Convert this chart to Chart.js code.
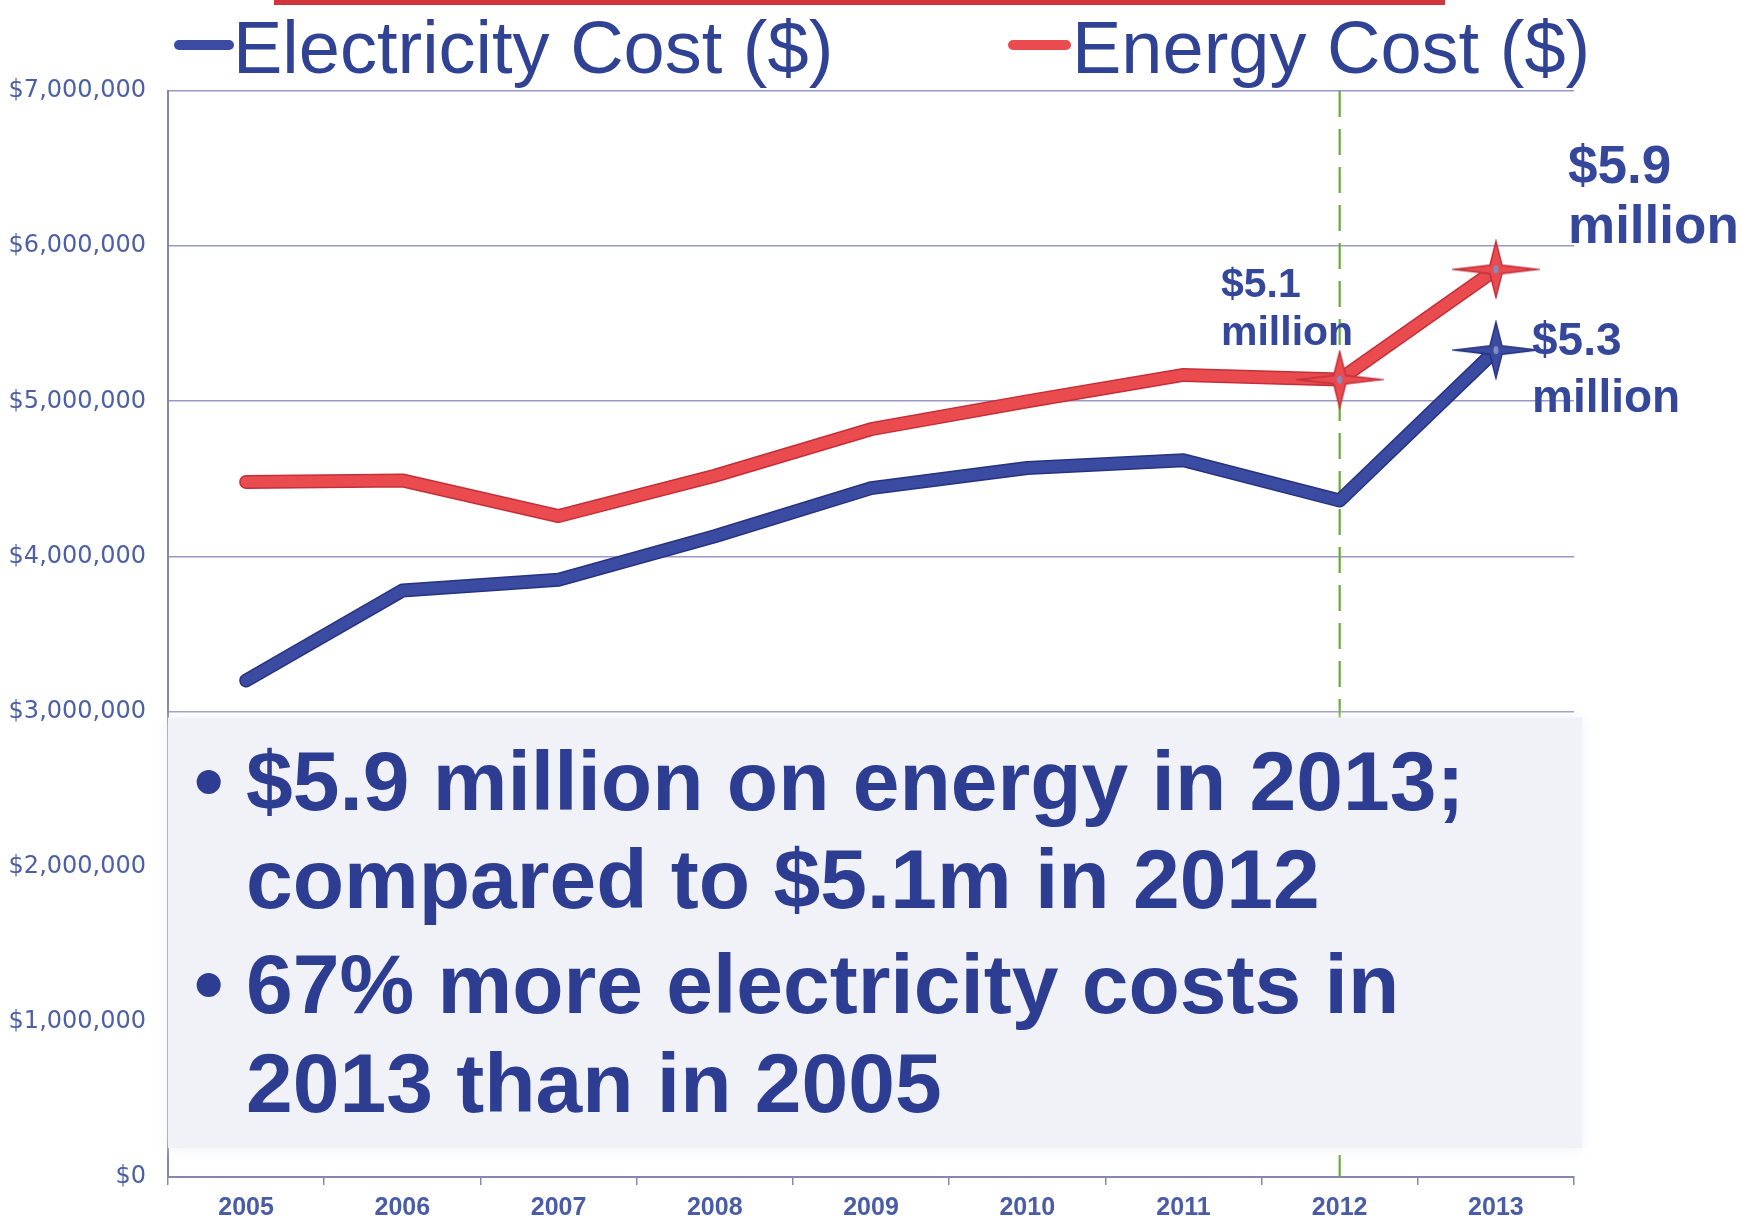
<!DOCTYPE html>
<html>
<head>
<meta charset="utf-8">
<script src="https://cdn.jsdelivr.net/npm/chart.js@4.4.1/dist/chart.umd.min.js"></script>
<style>
  html, body { margin: 0; padding: 0; background: #ffffff; }
  #wrap { width: 1756px; height: 1222px; position: relative; }
</style>
</head>
<body>
<div id="wrap"><canvas id="c"></canvas></div>
<script>
// ---- data ----
const years = ['2005', '2006', '2007', '2008', '2009', '2010', '2011', '2012', '2013'];
const electricityCost = [3200000, 3780000, 3850000, 4130000, 4440000, 4570000, 4620000, 4360000, 5330000];
const energyCost = [4480000, 4490000, 4260000, 4520000, 4820000, 5000000, 5170000, 5140000, 5850000];
const electricityStars = [8];
const energyStars = [7, 8];
const seriesNames = ['Electricity Cost ($)', 'Energy Cost ($)'];
const yTicks = [0, 1000000, 2000000, 3000000, 4000000, 5000000, 6000000, 7000000];
const markerYear = '2012';
const notes = [
  { lines: ['$5.9', 'million'] },
  { lines: ['$5.1', 'million'] },
  { lines: ['$5.3', 'million'] }
];
const bullets = [
  ['\u2022', '$5.9 million on energy in 2013;'],
  ['', 'compared to $5.1m in 2012'],
  ['\u2022', '67% more electricity costs in'],
  ['', '2013 than in 2005']
];

// ---- styles ----
const BLUE = '#3b4ba1', BLUE_DK = '#27337f';
const RED = '#ea4b4e', RED_DK = '#c3303a';
const TEXT_BLUE = '#2f4294';
const FONT = '"Liberation Sans", Arial, sans-serif';

function makeStar(fill, stroke) {
  const c = document.createElement('canvas');
  c.width = 88; c.height = 60;
  const g = c.getContext('2d');
  const cx = 44, cy = 30, rx = 41, ry = 28, r = 6;
  g.beginPath();
  const pts = [[cx + rx, cy], [cx + r, cy + r * 0.7], [cx, cy + ry], [cx - r, cy + r * 0.7],
               [cx - rx, cy], [cx - r, cy - r * 0.7], [cx, cy - ry], [cx + r, cy - r * 0.7]];
  pts.forEach((p, i) => i ? g.lineTo(p[0], p[1]) : g.moveTo(p[0], p[1]));
  g.closePath();
  g.fillStyle = fill; g.fill();
  g.lineWidth = 1.5; g.strokeStyle = stroke; g.stroke();
  g.beginPath(); g.ellipse(cx, cy, 2.5, 4, 0, 0, Math.PI * 2);
  g.fillStyle = '#7f8fc4'; g.fill();
  return c;
}
const redStar = makeStar(RED, RED_DK);
const blueStar = makeStar(BLUE, BLUE_DK);

function starOpts(stars, img) {
  return {
    pointStyle: ctx => stars.includes(ctx.dataIndex) ? img : 'circle',
    pointRadius: ctx => stars.includes(ctx.dataIndex) ? 10 : 0,
    pointHoverRadius: ctx => stars.includes(ctx.dataIndex) ? 10 : 0
  };
}

const overlayPlugin = {
  id: 'overlay',
  beforeDatasetsDraw(chart) {
    const ctx = chart.ctx, x = chart.scales.x, a = chart.chartArea;
    const px = x.getPixelForValue(years.indexOf(markerYear));
    ctx.save();
    ctx.strokeStyle = '#6aa83a'; ctx.lineWidth = 2.2;
    ctx.setLineDash([26, 12]);
    ctx.beginPath(); ctx.moveTo(px, a.top); ctx.lineTo(px, a.bottom); ctx.stroke();
    ctx.restore();
  },
  afterDraw(chart) {
    const ctx = chart.ctx, a = chart.chartArea, ys = chart.scales.y;
    ctx.save();
    // top red rule
    ctx.fillStyle = '#d2343c';
    ctx.fillRect(274, 0, 1171, 5);
    // legend
    ctx.font = '74px ' + FONT;
    ctx.textBaseline = 'alphabetic';
    ctx.fillStyle = TEXT_BLUE;
    ctx.lineCap = 'round'; ctx.lineWidth = 10;
    ctx.strokeStyle = BLUE;
    ctx.beginPath(); ctx.moveTo(179, 45); ctx.lineTo(229, 45); ctx.stroke();
    ctx.fillText(seriesNames[0], 233, 73);
    ctx.strokeStyle = RED;
    ctx.beginPath(); ctx.moveTo(1013, 45); ctx.lineTo(1066, 45); ctx.stroke();
    ctx.fillText(seriesNames[1], 1072, 73);

    // text box overlay
    const bx0 = a.left, bx1 = a.right + 8, by0 = ys.getPixelForValue(3000000) + 6, by1 = a.bottom - 29;
    ctx.shadowColor = 'rgba(235,238,246,0.9)'; ctx.shadowBlur = 12;
    ctx.fillStyle = '#f0f2f8';
    ctx.fillRect(bx0, by0, bx1 - bx0, by1 - by0);
    ctx.shadowBlur = 0; ctx.shadowColor = 'transparent';
    ctx.fillStyle = '#2d3d92';
    ctx.font = 'bold 84px ' + FONT;
    const base = [810, 908, 1013, 1112];
    bullets.forEach((b, i) => {
      if (b[0]) ctx.fillText(b[0], 194, base[i]);
      ctx.fillText(b[1], 246, base[i]);
    });

    // annotations
    ctx.fillStyle = '#34479b';
    ctx.font = 'bold 53px ' + FONT;
    ctx.fillText(notes[0].lines[0], 1568, 183);
    ctx.fillText(notes[0].lines[1], 1568, 243);
    ctx.font = 'bold 41px ' + FONT;
    ctx.fillText(notes[1].lines[0], 1221, 297);
    ctx.fillText(notes[1].lines[1], 1221, 345);
    ctx.font = 'bold 46px ' + FONT;
    ctx.fillText(notes[2].lines[0], 1532, 355);
    ctx.fillText(notes[2].lines[1], 1532, 412);
    ctx.restore();
  }
};

Chart.defaults.font.family = FONT;

const lineBase = { borderJoinStyle: 'round', borderCapStyle: 'round', tension: 0 };

new Chart(document.getElementById('c'), {
  type: 'line',
  data: {
    labels: years,
    datasets: [
      Object.assign({ label: seriesNames[1], data: energyCost, borderColor: RED, borderWidth: 11 }, lineBase, starOpts(energyStars, redStar)),
      Object.assign({ label: seriesNames[0], data: electricityCost, borderColor: BLUE, borderWidth: 11 }, lineBase, starOpts(electricityStars, blueStar)),
      Object.assign({ label: 'outline-e', data: energyCost, borderColor: RED_DK, borderWidth: 14, pointRadius: 0 }, lineBase),
      Object.assign({ label: 'outline-el', data: electricityCost, borderColor: BLUE_DK, borderWidth: 14, pointRadius: 0 }, lineBase)
    ]
  },
  options: {
    responsive: true,
    maintainAspectRatio: false,
    devicePixelRatio: 1,
    animation: false,
    layout: { padding: { top: 91, right: 182, left: 0, bottom: 0 } },
    plugins: { legend: { display: false }, tooltip: { enabled: false } },
    scales: {
      x: {
        offset: true,
        grid: { offset: true, drawOnChartArea: false, drawTicks: true, tickLength: 8, color: '#8a8ab0', lineWidth: 1.5 },
        border: { color: '#8585ad', width: 2 },
        ticks: { color: '#4a5ca5', font: { size: 25, weight: 'bold', family: FONT }, padding: 8, maxRotation: 0 },
        afterFit: s => { s.height = 45; }
      },
      y: {
        min: 0, max: 7000000,
        afterBuildTicks: s => { s.ticks = yTicks.map(v => ({ value: v })); },
        grid: { drawTicks: false, color: '#9898c6', lineWidth: 1.6 },
        border: { color: '#8585ad', width: 2 },
        ticks: {
          color: '#4d5fa5', padding: 22,
          font: { size: 24, family: '"DejaVu Sans", Verdana, sans-serif' },
          callback: v => '$' + Number(v).toLocaleString('en-US')
        },
        afterFit: s => { s.width = 168; }
      }
    }
  },
  plugins: [overlayPlugin]
});
</script>
</body>
</html>
